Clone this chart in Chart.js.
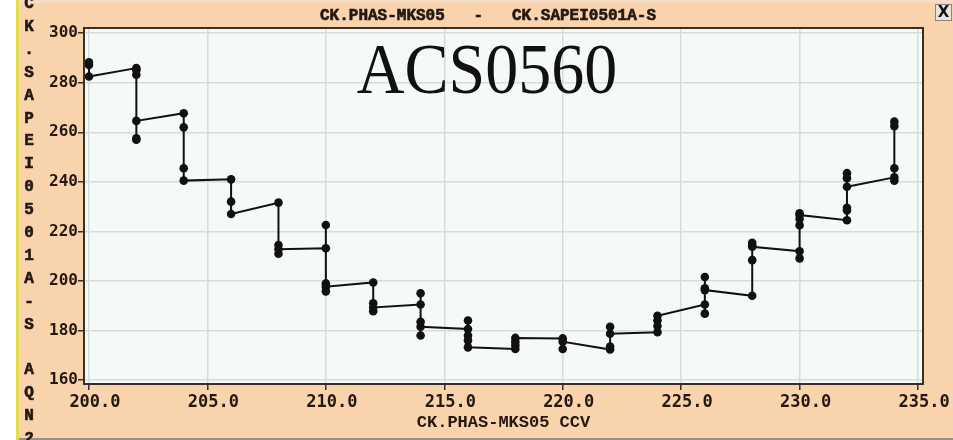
<!DOCTYPE html>
<html>
<head>
<meta charset="utf-8">
<title>ACS0560</title>
<script src="https://cdn.jsdelivr.net/npm/chart.js@4.4.1/dist/chart.umd.min.js"></script>
<style>
  html, body { margin: 0; padding: 0; background: #f8d3ab; overflow: hidden; }
  canvas { display: block; }
</style>
</head>
<body>
<canvas id="faseChart" width="953" height="440"></canvas>
<script>
// Consignas de fase (eje X) y lecturas de cada paso, en el orden en que se trazan
const consignas = [200, 202, 204, 206, 208, 210, 212, 214, 216, 218, 220, 222, 224, 226, 228, 230, 232, 234];
const lecturas = [
    [288.3, 287.2, 282.5],
    [285.9, 285.0, 283.2, 257.6, 257.0, 264.6],
    [267.7, 262.0, 245.5, 240.5],
    [241.0, 232.0, 227.0],
    [231.6, 214.5, 211.0, 212.8],
    [213.2, 222.6, 199.0, 195.8, 197.7],
    [199.4, 191.0, 187.8, 189.3],
    [190.5, 195.0, 183.5, 178.0, 181.5],
    [180.6, 184.0, 178.0, 176.0, 173.2],
    [172.5, 174.0, 175.5, 177.0],
    [176.8, 172.5, 175.5],
    [172.3, 173.5, 181.5, 178.7],
    [179.3, 181.8, 184.0, 185.9],
    [190.5, 186.8, 201.6, 197.0, 196.3],
    [194.0, 208.4, 215.4, 214.3, 213.8],
    [212.0, 209.1, 222.5, 225.0, 227.3, 226.6],
    [224.5, 228.5, 229.5, 243.5, 241.5, 238.0],
    [241.8, 240.5, 245.5, 262.5, 264.3]
];

const ticksX = [200, 205, 210, 215, 220, 225, 230, 235];
const ticksY = [160, 180, 200, 220, 240, 260, 280, 300];

const tituloSuperior = 'CK.PHAS-MKS05   -   CK.SAPEI0501A-S';
const tituloEjeX = 'CK.PHAS-MKS05 CCV';
const tituloEjeY = 'CK.SAPEI0501A-S AQN2';
const etiquetaGrande = 'ACS0560';

const colorFondo = '#f8d3ab';
const colorTexto = '#231812';

let chart;

function construirPuntos() {
    const puntos = [];
    consignas.forEach((x, i) => {
        lecturas[i].forEach(y => puntos.push({ x: x, y: y }));
    });
    return puntos;
}

// texto con un trazo fino encima para que pese como el original
function textoGrueso(ctx, texto, x, y) {
    ctx.fillText(texto, x, y);
    ctx.strokeText(texto, x, y);
}

// Fondo, marco, textos sueltos y el boton de cierre
const marcoVentana = {
    id: 'marcoVentana',
    beforeDraw(chart) {
        const ctx = chart.ctx;
        const area = chart.chartArea;
        ctx.save();
        ctx.fillStyle = colorFondo;
        ctx.fillRect(0, 0, chart.width, chart.height);
        ctx.fillStyle = '#f6dcc2';
        ctx.fillRect(0, 0, chart.width, 3);
        ctx.fillStyle = '#ffffff';
        ctx.fillRect(0, 0, 16, chart.height);
        ctx.fillStyle = '#e4dc4c';
        ctx.fillRect(16, 0, 3, chart.height);
        ctx.fillStyle = '#9a9088';
        ctx.fillRect(19, chart.height - 2, chart.width, 2);
        ctx.fillStyle = '#f5faf6';
        ctx.fillRect(area.left, area.top, area.right - area.left, area.bottom - area.top);
        ctx.restore();
    },
    afterDraw(chart) {
        const ctx = chart.ctx;
        const area = chart.chartArea;
        ctx.save();

        // marco del area de trazado
        ctx.strokeStyle = '#3a2e2a';
        ctx.lineWidth = 2;
        ctx.strokeRect(area.left, area.top, area.right - area.left, area.bottom - area.top);

        // titulo de la ventana
        ctx.fillStyle = colorTexto;
        ctx.strokeStyle = colorTexto;
        ctx.lineWidth = 0.6;
        ctx.font = 'bold 16px "Liberation Mono"';
        ctx.textAlign = 'center';
        ctx.textBaseline = 'middle';
        textoGrueso(ctx, tituloSuperior, 488, 16);

        // titulo del eje Y, letra por letra
        ctx.font = 'bold 16px "Liberation Mono"';
        tituloEjeY.split('').forEach((letra, i) => {
            textoGrueso(ctx, letra, 29, 4 + i * 22.9);
        });

        // nombre grande dentro de la grafica
        ctx.save();
        ctx.fillStyle = '#111111';
        ctx.font = '66px "Liberation Serif"';
        ctx.textBaseline = 'alphabetic';
        ctx.translate(487, 93);
        ctx.scale(1, 1.08);
        ctx.fillText(etiquetaGrande, 0, 0);
        ctx.restore();

        // boton de cierre
        ctx.fillStyle = '#e8e4de';
        ctx.fillRect(935, 4, 17, 17);
        ctx.strokeStyle = '#8a8480';
        ctx.lineWidth = 1;
        ctx.strokeRect(935.5, 4.5, 16, 16);
        ctx.fillStyle = '#111111';
        ctx.font = 'bold 15px "DejaVu Sans"';
        ctx.fillText('X', 943.5, 13);

        ctx.restore();
    }
};

function crearGrafica() {
    const ctx = document.getElementById('faseChart').getContext('2d');
    const fuenteTicks = { family: '"DejaVu Sans Mono"', size: 17, weight: 'bold' };

    chart = new Chart(ctx, {
        type: 'scatter',
        data: {
            datasets: [{
                data: construirPuntos(),
                showLine: true,
                borderColor: '#111111',
                borderWidth: 2,
                tension: 0,
                pointRadius: 4.3,
                pointBackgroundColor: '#111111',
                pointBorderWidth: 0
            }]
        },
        options: {
            responsive: false,
            animation: false,
            layout: {
                padding: { left: 0, top: 28, right: 30, bottom: 0 }
            },
            plugins: {
                legend: { display: false },
                tooltip: { enabled: false }
            },
            scales: {
                x: {
                    type: 'linear',
                    min: 199.79,
                    max: 235.21,
                    afterBuildTicks: s => { s.ticks = ticksX.map(v => ({ value: v })); },
                    afterFit: s => { s.height = 56; },
                    ticks: {
                        callback: v => v.toFixed(1),
                        color: colorTexto,
                        font: fuenteTicks,
                        padding: 2,
                        labelOffset: 6,
                        maxRotation: 0,
                        autoSkip: false
                    },
                    grid: {
                        color: '#d8dcd8',
                        lineWidth: 1.5,
                        tickColor: '#3a2e2a',
                        tickLength: 6
                    },
                    border: { color: '#3a2e2a', width: 2 },
                    title: {
                        display: true,
                        text: tituloEjeX,
                        color: colorTexto,
                        font: { family: '"Liberation Mono"', size: 17, weight: 'bold' },
                        padding: { top: 0, bottom: 7 }
                    }
                },
                y: {
                    min: 158.4,
                    max: 302.1,
                    afterBuildTicks: s => { s.ticks = ticksY.map(v => ({ value: v })); },
                    afterFit: s => { s.width = 84; },
                    ticks: {
                        color: colorTexto,
                        font: { family: '"DejaVu Sans Mono"', size: 16, weight: 'bold' },
                        padding: 0,
                        autoSkip: false
                    },
                    grid: {
                        color: '#d8dcd8',
                        lineWidth: 1.5,
                        tickColor: '#3a2e2a',
                        tickLength: 6
                    },
                    border: { color: '#3a2e2a', width: 2 }
                }
            }
        },
        plugins: [marcoVentana]
    });
}

window.addEventListener('load', crearGrafica);
</script>
</body>
</html>
